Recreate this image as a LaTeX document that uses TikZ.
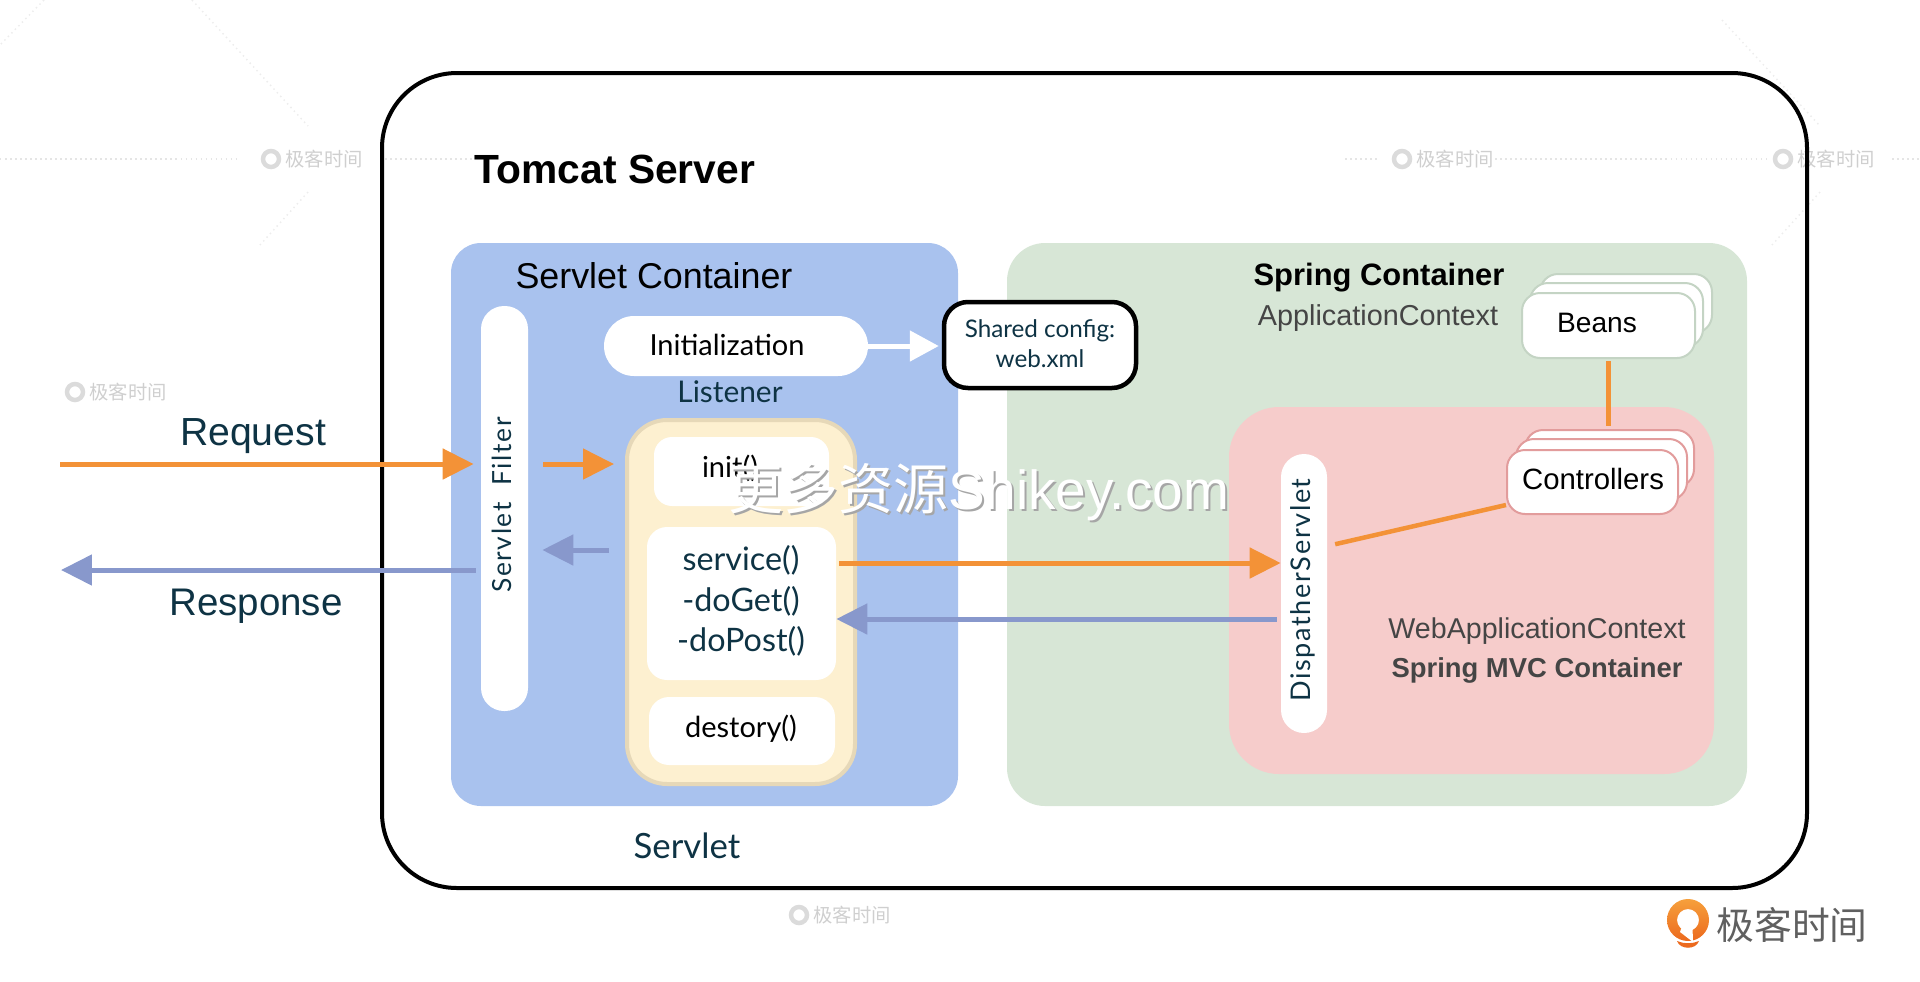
\documentclass[tikz,border=0pt]{standalone}
\usepackage{fontspec}
\setmainfont{Liberation Sans}
\newfontfamily\humanfont{Lato}
\newfontfamily\spacedfont[LetterSpace=6]{Lato}
\newfontfamily\cjk{Noto Sans CJK SC}
\usetikzlibrary{arrows.meta,calc,positioning}
\definecolor{servletblue}{HTML}{A9C2EE}
\definecolor{springgreen}{HTML}{D7E6D6}
\definecolor{mvcpink}{HTML}{F6CCCB}
\definecolor{lifecream}{HTML}{FDF0D0}
\definecolor{lifeedge}{HTML}{E6D8B8}
\definecolor{reqorange}{HTML}{F39237}
\definecolor{respblue}{HTML}{8898CC}
\definecolor{inkteal}{HTML}{0E3344}
\definecolor{softgray}{HTML}{454545}
\definecolor{logoorangetop}{HTML}{F6A03C}
\definecolor{logoorangelow}{HTML}{EC6A1E}
\newcommand{\px}{0.02cm}
\tikzset{
  wh/.style 2 args={minimum width=#1*\px, minimum height=#2*\px, inner sep=0pt},
  region/.style={rounded corners=#1*\px},
  whitebox/.style={fill=white, rounded corners=#1*\px},
  beanbox/.style={fill=white, draw=#1, line width=2*\px, rounded corners=18*\px},
  label/.style={inner sep=0pt, text=inkteal},
  reqarrow/.style={draw=reqorange, line width=5*\px, -{Triangle[length=0.62cm,width=0.6cm]}},
  resparrow/.style={draw=respblue, line width=5*\px, -{Triangle[length=0.62cm,width=0.6cm]}},
  link/.style={draw=reqorange, line width=4.5*\px},
}
\begin{document}
\begin{tikzpicture}[x=0.02cm,y=-0.02cm]
        \useasboundingbox (0,0) rectangle (1920,981);
        % faint background marks
        \foreach \xa/\xb in {0/238, 385/475, 1345/1380, 1495/1770, 1892/1920}
            \draw[gray!20, dotted, line width=1.5*\px] (\xa,159) -- (\xb,159);
        \foreach \xa/\ya/\xb/\yb in {192/0/308/126, 44/0/0/45, 308/192/260/245, 1722/20/1820/126, 1820/192/1772/245}
            \draw[gray!14, dotted, line width=1.5*\px] (\xa,\ya) -- (\xb,\yb);
        \foreach \wx/\wy [count=\wi] in {310/159, 1441/159, 1822/159, 114/392, 1626/392, 838/915}{
            \draw[gray!28, line width=4.5*\px] (\wx-39,\wy) circle (8);
            \node[inner sep=0pt, text=gray!38] (mark\wi) at (\wx+14,\wy) {\cjk\fontsize{11pt}{11pt}\selectfont 极客时间};
        }

        \node[wh={1425}{815}, draw=black, line width=4*\px, rounded corners=75*\px] (tomcat) at (1094.5,480.5) {};
        \node[inner sep=0pt] (tomcatlabel) at (615,169) {\fontsize{23.2pt}{23pt}\selectfont\bfseries Tomcat Server};

        \node[wh={507}{563}, fill=servletblue, region=30] (servletbox) at (704.5,524.5) {};
        \node[wh={740}{563}, fill=springgreen, region=38] (springbox) at (1377,524.5) {};
        \node[wh={485}{367}, fill=mvcpink, region=50] (mvcbox) at (1471.5,590.5) {};
        \node[inner sep=0pt] (servletlabel) at (654,276) {\fontsize{20.4pt}{21pt}\selectfont Servlet Container};
        \node[inner sep=0pt] (springlabel) at (1379,278) {\fontsize{17.6pt}{19pt}\selectfont\bfseries Spring Container};
        \node[inner sep=0pt, text=softgray] (applabel) at (1378,318) {\fontsize{16.4pt}{17pt}\selectfont ApplicationContext};
        \node[inner sep=0pt, text=softgray] (weblabel) at (1537,631) {\fontsize{16.3pt}{17pt}\selectfont WebApplicationContext};
        \node[inner sep=0pt, text=softgray] (mvclabel) at (1537,670) {\fontsize{15.6pt}{16pt}\selectfont\bfseries Spring MVC Container};

        \node[wh={47}{405}, whitebox=23] (filter) at (504.5,508.5) {};
        \node[label, rotate=90] (filterlabel) at (502,505) {\spacedfont\fontsize{15pt}{15pt}\selectfont Servlet\ \ Filter};
        \node[wh={264}{60}, whitebox=30] (listener) at (736,346) {};
        \node[inner sep=0pt] (listenerinner) at (727,345) {\humanfont\fontsize{16.5pt}{17pt}\selectfont Initialization};
        \node[label] (listenerlabel) at (730,392) {\humanfont\fontsize{17pt}{17pt}\selectfont Listener};
        \node[wh={192}{86}, fill=white, draw=black, line width=4.5*\px, rounded corners=24*\px] (webxml) at (1040,345) {};
        \node[label, align=center, font=\humanfont\fontsize{13.8pt}{17pt}\selectfont] (webxmllabel) at (1040,344) {Shared config:\\web.xml};

        \node[wh={228}{364}, fill=lifecream, draw=lifeedge, line width=4*\px, rounded corners=40*\px] (lifecycle) at (741,602) {};
        \node[wh={175}{69}, whitebox=18] (initbox) at (741.5,471.5) {};
        \node[wh={189}{153}, whitebox=20] (servicebox) at (741.5,603.5) {};
        \node[wh={186}{68}, whitebox=20] (destroybox) at (742,731) {};
        \node[inner sep=0pt] (initlabel) at (730,468) {\humanfont\fontsize{16.5pt}{17pt}\selectfont init()};
        \node[label, align=center, font=\humanfont\fontsize{18.4pt}{23pt}\selectfont] (servicelabel) at (741,601) {service()\\-doGet()\\-doPost()};
        \node[inner sep=0pt] (destroylabel) at (741,729) {\humanfont\fontsize{16.5pt}{17pt}\selectfont destory()};
        \node[label] (servletname) at (687,846) {\humanfont\fontsize{19.8pt}{20pt}\selectfont Servlet};

        \node[wh={46}{279}, whitebox=23] (dispatcher) at (1304,593.5) {};
        \node[label, rotate=90] (dispatcherlabel) at (1303,590) {\spacedfont\fontsize{15.4pt}{15pt}\selectfont DispatherServlet};

        \node[wh={172}{59}, beanbox=green!15!gray!40] (beansc) at (1626,303.5) {};
        \node[wh={173}{64}, beanbox=green!15!gray!40] (beansb) at (1616.5,315) {};
        \node[wh={173}{65}, beanbox=green!15!gray!40] (beans) at (1608.5,325.5) {};
        \node[inner sep=0pt] (beanslabel) at (1597,323) {\fontsize{16pt}{16pt}\selectfont Beans};
        \node[wh={169}{57}, beanbox=red!55!gray!50] (ctrlc) at (1609.5,458.5) {};
        \node[wh={171}{61}, beanbox=red!55!gray!50] (ctrlb) at (1601.5,469.5) {};
        \node[wh={171}{64}, beanbox=red!55!gray!50] (controllers) at (1592.5,482) {};
        \node[inner sep=0pt] (controllerslabel) at (1593,479) {\fontsize{16.7pt}{17pt}\selectfont Controllers};

        \coordinate (reqrow) at (60,464);
        \coordinate (resprow) at (61,570);
        \coordinate (backrow) at (0,550);
        \coordinate (callrow) at (0,563);
        \coordinate (retrow) at (0,619);
        \coordinate (disprow) at (0,546);

        \draw[reqarrow, shorten >=0.14cm] (reqrow) -- (reqrow -| filter.west);
        \draw[resparrow, shorten <=0.1cm] (resprow -| filter.west) -- (resprow);
        \draw[reqarrow, shorten <=0.3cm, shorten >=0.22cm] (reqrow -| filter.east) -- (reqrow -| lifecycle.west);
        \draw[resparrow, shorten <=0.32cm, shorten >=0.28cm] (backrow -| lifecycle.west) -- (backrow -| filter.east);
        \draw[reqarrow, shorten <=0.06cm] (callrow -| servicebox.east) -- (callrow -| dispatcher.west);
        \draw[resparrow, shorten <=0.08cm] (retrow -| dispatcher.west) -- (retrow -| servicebox.east);
        \draw[draw=white, line width=5*\px, -{Triangle[length=0.58cm,width=0.6cm,fill=white]}, shorten >=0.06cm] (listener.east) -- (listener.east -| webxml.west);
        \draw[link, shorten <=0.04cm, shorten >=0.06cm] (beans.south) -- (beans.south |- ctrlc.north);
        \draw[link, shorten <=0.16cm] (disprow -| dispatcher.east) -- ([yshift=0.2cm]controllers.south west);

        % request label and response label
        \node[label] (reqlabel) at (253,436) {\fontsize{22.3pt}{23pt}\selectfont Request};
        \node[label] (resplabel) at (256,606) {\fontsize{21.9pt}{22pt}\selectfont Response};

        % bottom right mark
        \shade[top color=logoorangetop, bottom color=logoorangelow, even odd rule] (1688,920) circle (21) (1688,920) circle (11);
        \fill[white] (1680,932) -- (1687,912) -- (1692,912) -- (1693,942) -- cycle;
        \fill[logoorangelow] (1677,941) .. controls (1684,944) and (1692,944) .. (1699,941) .. controls (1696,950) and (1680,950) .. (1677,941) -- cycle;
        \node[inner sep=0pt, text=gray!75!black] (logotext) at (1792,925) {\cjk\fontsize{21.5pt}{21pt}\selectfont 极客时间};

        \node[inner sep=0pt, text=gray!70] (wmshadow) at (981,494) {\fontsize{31.3pt}{31pt}\selectfont{\cjk 更多资源}Shikey.com};
        \node[inner sep=0pt, text=white] (wmtext) at (979,492) {\fontsize{31.3pt}{31pt}\selectfont{\cjk 更多资源}Shikey.com};
\end{tikzpicture}
\end{document}
